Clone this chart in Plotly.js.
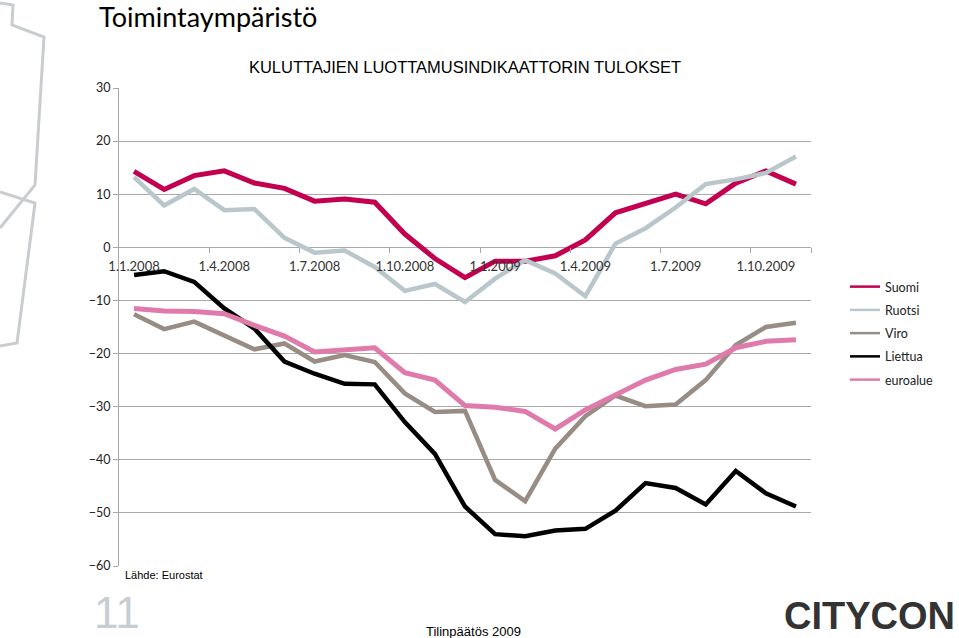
<!DOCTYPE html>
<html>
<head>
<meta charset="utf-8">
<script src="https://cdn.plot.ly/plotly-3.0.1.min.js"></script>
<style>
  html, body {margin: 0; padding: 0; background: #ffffff;}
  #chart {width: 959px; height: 638px;}
</style>
</head>
<body>
<div id="chart"></div>
<script>
// Monthly values, 1/2008 - 11/2009
const MONTH_INDEX = [0, 1, 2, 3, 4, 5, 6, 7, 8, 9, 10, 11, 12, 13, 14, 15, 16, 17, 18, 19, 20, 21, 22];
const TICK_VALUES = [0, 3, 6, 9, 12, 15, 18, 21];
const TICK_LABELS = ['1.1.2008', '1.4.2008', '1.7.2008', '1.10.2008',
                     '1.1.2009', '1.4.2009', '1.7.2009', '1.10.2009'];
const TICK_BOUNDS = [2.5, 5.5, 8.5, 11.5, 14.5, 17.5, 20.5, 22.5];

const SUOMI = [14.3, 10.9, 13.5, 14.4, 12.1, 11.1, 8.7, 9.1, 8.5, 2.5, -2.1, -5.7,
               -2.6, -2.6, -1.6, 1.4, 6.5, 8.3, 10.0, 8.2, 12.1, 14.4, 11.9];
const RUOTSI = [13.2, 7.9, 11.0, 7.0, 7.2, 1.8, -1.0, -0.6, -3.7, -8.2, -6.9, -10.3,
                -5.9, -2.4, -4.9, -9.2, 0.7, 3.6, 7.5, 11.9, 12.8, 14.0, 17.1];
const VIRO = [-12.6, -15.4, -14.0, -16.5, -19.2, -18.1, -21.5, -20.3, -21.6, -27.5, -31.0, -30.8,
              -43.8, -47.8, -37.9, -31.8, -27.9, -29.9, -29.6, -25.0, -18.4, -15.0, -14.2];
const LIETTUA = [-5.2, -4.5, -6.5, -11.5, -15.3, -21.5, -23.8, -25.7, -25.8, -32.9, -38.9, -48.8,
                 -54.0, -54.4, -53.3, -53.0, -49.6, -44.4, -45.3, -48.4, -42.1, -46.3, -48.8];
const EUROALUE = [-11.5, -12.0, -12.1, -12.5, -14.7, -16.7, -19.7, -19.3, -18.9, -23.6, -25.0, -29.8,
                  -30.1, -30.9, -34.2, -30.6, -27.9, -25.0, -23.0, -22.0, -18.9, -17.7, -17.4];

const SERIES_NAMES = ['Suomi', 'Ruotsi', 'Viro', 'Liettua', 'euroalue'];
const SERIES_VALUES = [SUOMI, RUOTSI, VIRO, LIETTUA, EUROALUE];
const SERIES_COLORS = ['#c3004f', '#b9c7cc', '#978d84', '#000000', '#e07aab'];
const SERIES_WIDTHS = [5, 4.5, 4.5, 4.5, 5];

// Plot area in pixels
const LEFT = 119, RIGHT = 811, TOP = 88, BOTTOM = 566;
const W = 959, H = 638;

function px(x) {
  return (x - LEFT) / (RIGHT - LEFT);
}

function py(y) {
  return (BOTTOM - y) / (BOTTOM - TOP);
}

const GRID_COLOR = '#a8a8a8';
const CALIBRI = 'Lato, "Open Sans", sans-serif';
const ARIAL = '"Liberation Sans", Arial, sans-serif';

let traces = [];

// the lines
for (let i = 0; i < SERIES_NAMES.length; i++) {
  traces.push({
    x: MONTH_INDEX,
    y: SERIES_VALUES[i],
    mode: 'lines',
    line: {color: SERIES_COLORS[i], width: SERIES_WIDTHS[i]},
    showlegend: false,
    hoverinfo: 'skip'
  });
};

// thin legend entries
for (let i = 0; i < SERIES_NAMES.length; i++) {
  traces.push({
    x: [null],
    y: [null],
    name: SERIES_NAMES[i],
    mode: 'lines',
    line: {color: SERIES_COLORS[i], width: 2.5},
    legendgroup: 'g' + i,
    hoverinfo: 'skip'
  });
};

// carrier for the tick mark axis
traces.push({
  x: [null],
  y: [null],
  xaxis: 'x2',
  mode: 'lines',
  showlegend: false,
  hoverinfo: 'skip'
});

// decorative outline on the left edge
const OUTLINE_A = [[0, 3], [13, 5], [12, 25], [44, 37], [35, 185], [0, 228]];
const OUTLINE_B = [[0, 192], [35, 203], [17, 343], [0, 346]];

function pathOf(points) {
  return points.map((p, i) => (i == 0 ? 'M' : 'L') + px(p[0]) + ',' + py(p[1])).join(' ');
};

let layout = {
  width: W,
  height: H,
  margin: {l: LEFT, r: W - RIGHT, t: TOP, b: H - BOTTOM, pad: 0},
  paper_bgcolor: '#ffffff',
  plot_bgcolor: '#ffffff',
  showlegend: true,
  title: {
    text: 'KULUTTAJIEN LUOTTAMUSINDIKAATTORIN TULOKSET',
    font: {family: ARIAL, size: 16.5, color: '#000000'},
    xref: 'paper',
    x: 0.5,
    xanchor: 'center',
    yref: 'container',
    y: 1 - 67 / H,
    yanchor: 'middle'
  },
  xaxis: {
    range: [-0.5, 22.5],
    tickvals: TICK_VALUES,
    ticktext: TICK_LABELS,
    ticks: '',
    showgrid: false,
    zeroline: false,
    showline: false,
    anchor: 'free',
    position: 2 / 3,
    ticklabelstandoff: 10,
    tickfont: {family: CALIBRI, size: 13, color: '#333333'},
    fixedrange: true
  },
  xaxis2: {
    overlaying: 'x',
    range: [-0.5, 22.5],
    tickvals: TICK_BOUNDS,
    ticks: 'outside',
    ticklen: 5,
    tickcolor: GRID_COLOR,
    tickwidth: 1,
    showticklabels: false,
    showgrid: false,
    zeroline: false,
    showline: false,
    anchor: 'free',
    position: 2 / 3,
    fixedrange: true
  },
  yaxis: {
    range: [-60, 30],
    dtick: 10,
    tick0: 0,
    showgrid: true,
    gridcolor: GRID_COLOR,
    gridwidth: 1,
    zeroline: false,
    showline: true,
    linecolor: GRID_COLOR,
    linewidth: 1,
    ticks: 'outside',
    ticklen: 5,
    tickcolor: GRID_COLOR,
    tickfont: {family: CALIBRI, size: 12.5, color: '#222222'},
    fixedrange: true
  },
  legend: {
    x: px(845),
    xanchor: 'left',
    y: py(272),
    yanchor: 'top',
    traceorder: 'grouped',
    tracegroupgap: 4,
    itemwidth: 30,
    bgcolor: 'rgba(0,0,0,0)',
    font: {family: CALIBRI, size: 12.5, color: '#222222'}
  },
  shapes: [
    {type: 'path', xref: 'paper', yref: 'paper', path: pathOf(OUTLINE_A),
     line: {color: '#c9cdd0', width: 3}},
    {type: 'path', xref: 'paper', yref: 'paper', path: pathOf(OUTLINE_B),
     line: {color: '#c9cdd0', width: 3}}
  ],
  annotations: [
    {
      text: 'Toimintaympäristö',
      xref: 'paper', yref: 'paper', x: px(97), y: py(16),
      xanchor: 'left', yanchor: 'middle', showarrow: false,
      font: {family: CALIBRI, size: 27, color: '#000000'}
    },
    {
      text: 'Lähde: Eurostat',
      xref: 'paper', yref: 'paper', x: px(123), y: py(575),
      xanchor: 'left', yanchor: 'middle', showarrow: false,
      font: {family: ARIAL, size: 11, color: '#000000'}
    },
    {
      text: '11',
      xref: 'paper', yref: 'paper', x: px(92), y: py(612),
      xanchor: 'left', yanchor: 'middle', showarrow: false,
      font: {family: ARIAL, size: 44, color: '#c6ced3'}
    },
    {
      text: 'Tilinpäätös 2009',
      xref: 'paper', yref: 'paper', x: px(473), y: py(631),
      xanchor: 'center', yanchor: 'middle', showarrow: false,
      font: {family: ARIAL, size: 13, color: '#000000'}
    },
    {
      text: '<b>CITYCON</b>',
      xref: 'paper', yref: 'paper', x: px(957), y: py(616),
      xanchor: 'right', yanchor: 'middle', showarrow: false,
      font: {family: ARIAL, size: 38, color: '#333333'}
    }
  ]
};

Plotly.newPlot('chart', traces, layout, {displayModeBar: false, staticPlot: true});
</script>
</body>
</html>
